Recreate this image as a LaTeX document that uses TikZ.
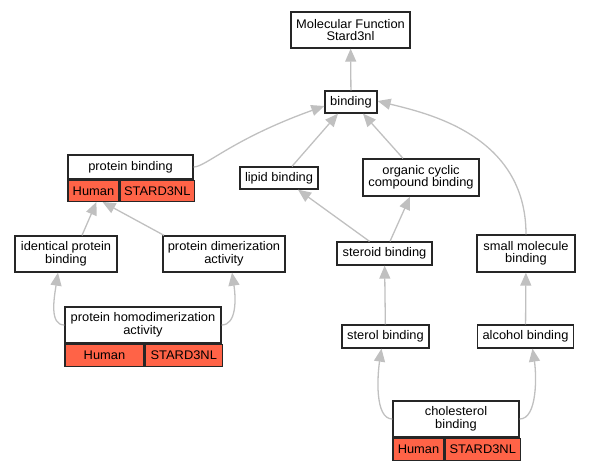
\documentclass[tikz,border=0pt]{standalone}
\usepackage{fontspec}
\setmainfont{Liberation Sans}[FakeStretch=1.03]
\usetikzlibrary{arrows.meta,positioning}
\definecolor{edgegray}{HTML}{C0C0C0}
\definecolor{hitred}{HTML}{FF6347}
\begin{document}
\begin{tikzpicture}[
  x=1pt, y=-1pt,
  term/.style={rectangle, draw=black!85, line width=1.3pt, fill=white, inner sep=0pt, align=center, font=\fontsize{12.5}{12.5}\selectfont},
  cell/.style={term, fill=hitred, minimum height=22pt},
  edge/.style={draw=edgegray, line width=1.3pt, -{Triangle[length=13pt,width=11pt,fill=edgegray]}},
  node distance=0pt
]
\useasboundingbox (0,0) rectangle (589,469);

\node[term, minimum width=119pt, minimum height=36pt] (mf) at (350.5,30) {Molecular Function\\Stard3nl};
\node[term, minimum width=52pt, minimum height=22pt] (binding) at (351,102) {binding};

\node[term, minimum width=125pt, minimum height=24pt] (pb) at (130.5,167) {protein binding};
\node[cell, minimum width=51pt, minimum height=21pt, below right=0pt and 0pt of pb.south west] (pbh) {Human};
\node[cell, minimum width=74pt, minimum height=21pt, right=0pt of pbh] (pbg) {STARD3NL};

\node[term, minimum width=78pt, minimum height=22pt] (lipid) at (279,178) {lipid binding};
\node[term, minimum width=116pt, minimum height=37pt] (ocb) at (421,177.5) {organic cyclic\\compound binding};

\node[term, minimum width=102pt, minimum height=36pt] (ipb) at (66,254) {identical protein\\binding};
\node[term, minimum width=122pt, minimum height=36pt] (pda) at (224,254) {protein dimerization\\activity};
\node[term, minimum width=95pt, minimum height=23pt] (steroid) at (384.5,253.5) {steroid binding};
\node[term, minimum width=98pt, minimum height=37pt] (smb) at (526,253.5) {small molecule\\binding};

\node[term, minimum width=156pt, minimum height=36pt] (phd) at (143,325) {protein homodimerization\\activity};
\node[cell, minimum width=79pt, below right=0pt and 0pt of phd.south west] (phdh) {Human};
\node[cell, minimum width=77pt, right=0pt of phdh] (phdg) {STARD3NL};

\node[term, minimum width=87pt, minimum height=23pt] (sterol) at (385.5,336.5) {sterol binding};
\node[term, minimum width=96pt, minimum height=23pt] (alcohol) at (525.5,336.5) {alcohol binding};

\node[term, minimum width=126pt, minimum height=36pt] (chol) at (456,419) {cholesterol\\binding};
\node[cell, minimum width=51pt, below right=0pt and 0pt of chol.south west] (cholh) {Human};
\node[cell, minimum width=75pt, right=0pt of cholh] (cholg) {STARD3NL};

% is_a links
\draw[edge] (binding) -- (mf);
\draw[edge] (pb.east) .. controls +(12,0) and +(-92,33) .. ([yshift=-4pt]binding.west);
\draw[edge] ([xshift=13pt]lipid.north) -- ([xshift=-13pt]binding.south);
\draw[edge] ([xshift=-18pt]ocb.north) -- ([xshift=12pt]binding.south);
\draw[edge] (smb.north) .. controls +(0,-100) and +(48,12) .. ([yshift=1pt]binding.east);
\draw[edge] ([xshift=16pt]ipb.north) -- ([xshift=3pt]pbh.south);
\draw[edge] ([xshift=-60pt]pda.north) -- ([xshift=9pt]pbh.south);
\draw[edge] ([xshift=-15pt]steroid.north) -- ([xshift=19pt]lipid.south);
\draw[edge] ([xshift=5.5pt]steroid.north) -- ([xshift=-11pt]ocb.south);
\draw[edge] (sterol) -- (steroid);
\draw[edge] (alcohol) -- (smb);
\draw[edge] (phd.west) .. controls +(-15,0) and +(-4,26) .. ([xshift=-8pt]ipb.south);
\draw[edge] (phd.east) .. controls +(15,0) and +(4,26) .. ([xshift=8pt]pda.south);
\draw[edge] (chol.west) .. controls +(-18,0) and +(-4,26) .. ([xshift=-4pt]sterol.south);
\draw[edge] (chol.east) .. controls +(18,0) and +(4,26) .. ([xshift=7pt]alcohol.south);
\end{tikzpicture}
\end{document}
